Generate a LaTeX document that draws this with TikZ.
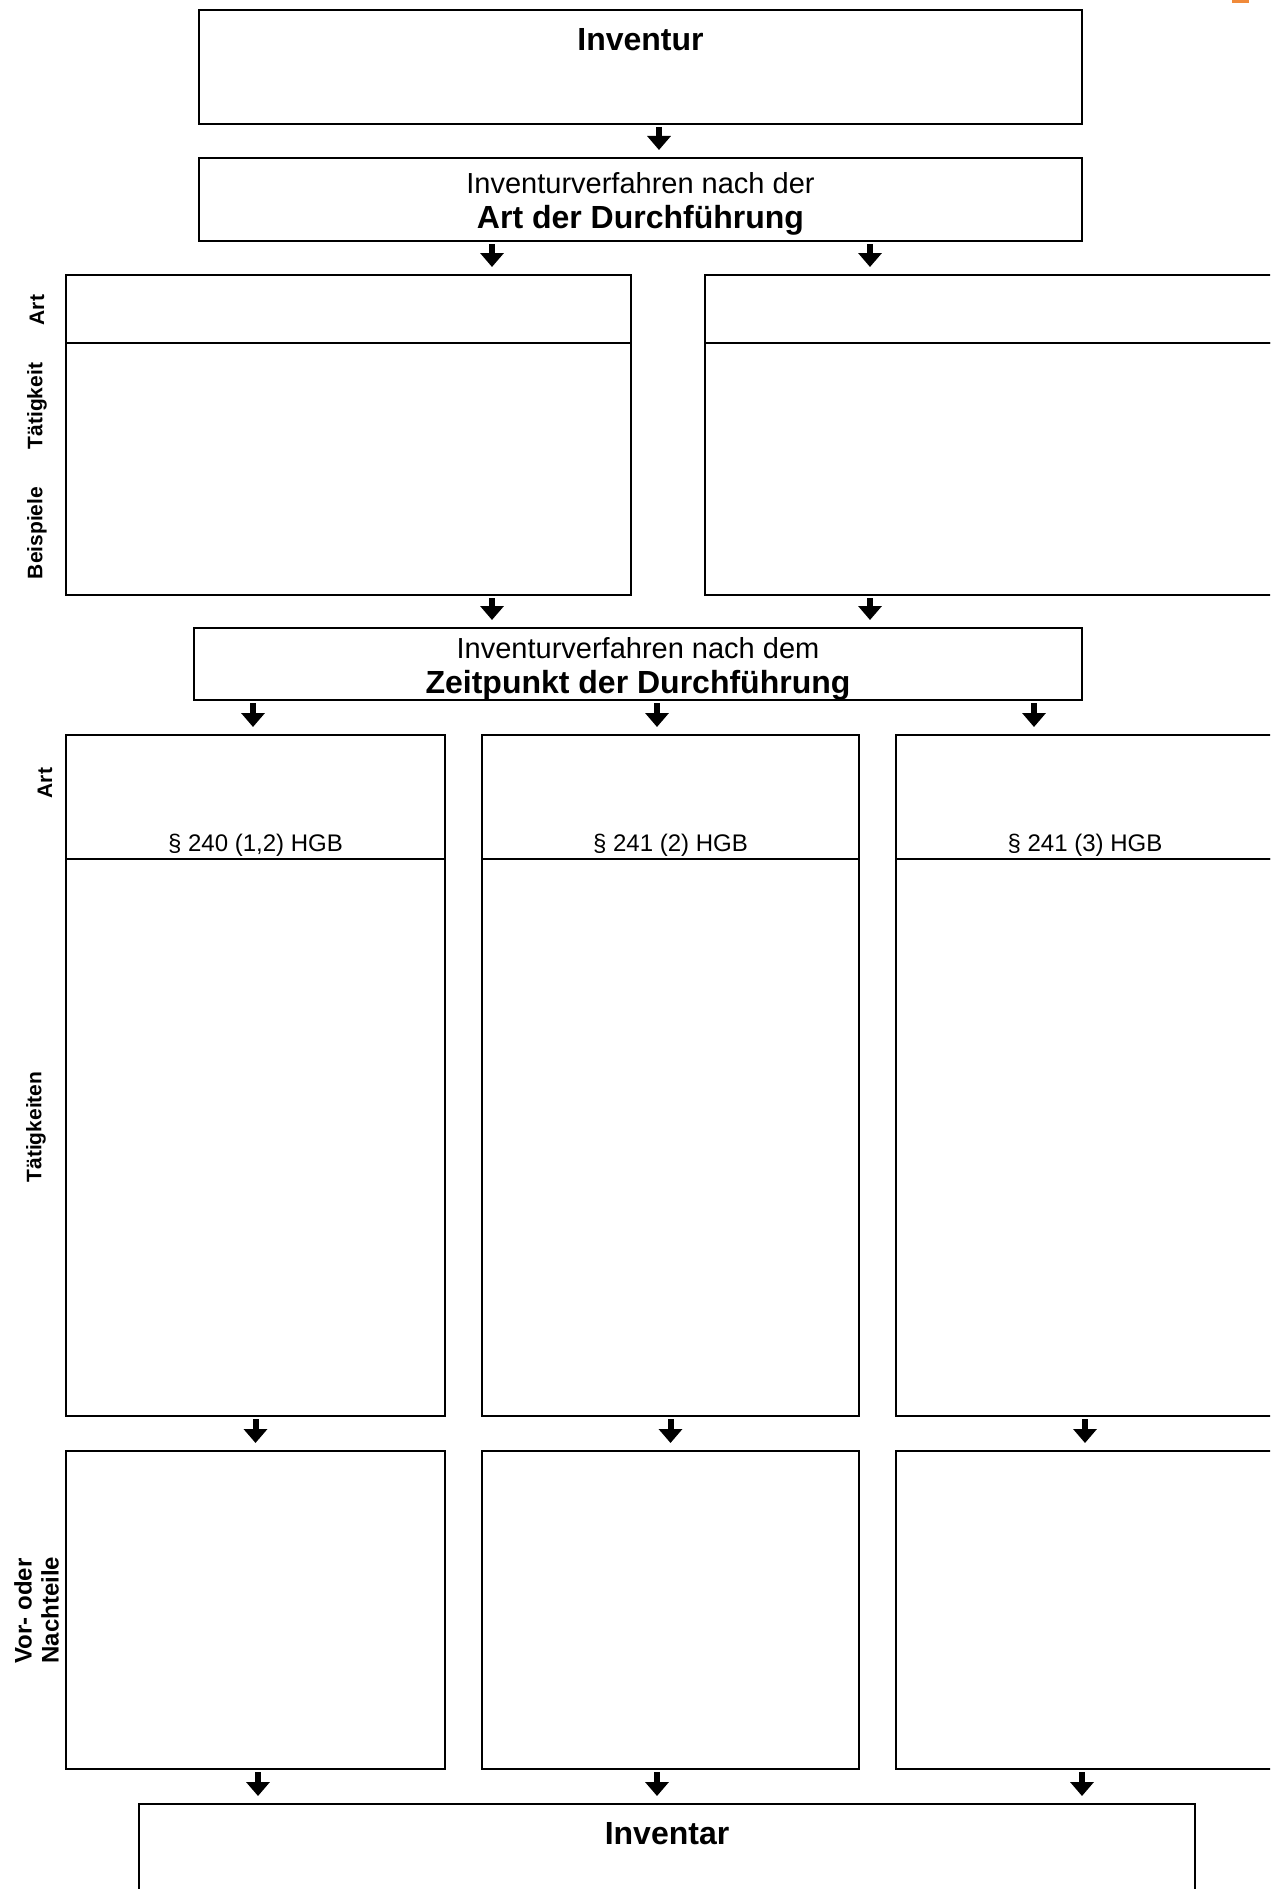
\documentclass[tikz,border=0pt]{standalone}
\usepackage{fontspec}
\setmainfont{Liberation Sans}
\usepackage{xcolor}
\usetikzlibrary{arrows.meta, positioning}

\definecolor{markorange}{HTML}{F08A3A}

\begin{document}
\begin{tikzpicture}[
    x=0.5pt, y=-0.5pt,
    panel/.style={draw, line width=1.2pt, anchor=north west, inner sep=0pt, outer sep=0pt},
    headtext/.style={anchor=center, yshift=-2.2pt, align=center, inner sep=0pt, font=\fontsize{14.5}{17.5}\selectfont},
    sidelabel/.style={rotate=90, inner sep=0pt, font=\bfseries\fontsize{10.5}{12}\selectfont},
    lawtext/.style={inner sep=0pt, font=\fontsize{12}{14}\selectfont},
    flow/.style={draw, line width=3pt, -{Triangle[length=7pt, width=11.5pt]}, shorten <=1.5pt, shorten >=4pt}
]
    \clip (0,0) rectangle (1270,1889);
    \fill[markorange] (1232,0) rectangle (1249,3);

    % Kopf
    \node [panel, minimum width=441.5pt, minimum height=57pt,
           label={[anchor=center, yshift=-15pt, font=\bfseries\fontsize{16}{19}\selectfont]north:Inventur}]
           (inventur) at (199,10) {};
    \node [panel, minimum width=441.5pt, minimum height=41.5pt,
           label={[headtext]center:Inventurverfahren nach der\\{\bfseries\fontsize{16}{17.5}\selectfont Art der Durchführung}}]
           (artHead) at (199,158) {};

    % Art der Durchfuehrung
    \node [panel, minimum width=282.5pt, minimum height=34pt] (artLeftTop) at (66,275) {};
    \node [panel, minimum width=282.5pt, minimum height=126pt, below=0pt of artLeftTop] (artLeftBody) {};
    \node [panel, minimum width=292.5pt, minimum height=34pt] (artRightTop) at (705,275) {};
    \node [panel, minimum width=292.5pt, minimum height=126pt, below=0pt of artRightTop] (artRightBody) {};

    \node [sidelabel] (lblArt) at (37,310) {Art};
    \node [sidelabel] (lblTaet) at (37,406) {Tätigkeit};
    \node [sidelabel] (lblBsp) at (37,533) {Beispiele};

    % Zeitpunkt der Durchfuehrung
    \node [panel, minimum width=444pt, minimum height=36pt,
           label={[headtext, yshift=-0.4pt]center:Inventurverfahren nach dem\\{\bfseries\fontsize{16}{17.5}\selectfont Zeitpunkt der Durchführung}}]
           (zeitHead) at (194,628) {};

    \node [panel, minimum width=189.5pt, minimum height=62pt] (colATop) at (66,735) {};
    \node [panel, minimum width=189.5pt, minimum height=278.5pt, below=0pt of colATop] (colABody) {};
    \node [panel, minimum width=188.5pt, minimum height=62pt] (colBTop) at (482,735) {};
    \node [panel, minimum width=188.5pt, minimum height=278.5pt, below=0pt of colBTop] (colBBody) {};
    \node [panel, minimum width=189pt, minimum height=62pt] (colCTop) at (896,735) {};
    \node [panel, minimum width=189pt, minimum height=278.5pt, below=0pt of colCTop] (colCBody) {};

    \node [lawtext] (lawA) at ([yshift=7pt]colATop.south) {§ 240 (1,2) HGB};
    \node [lawtext] (lawB) at ([yshift=7pt]colBTop.south) {§ 241 (2) HGB};
    \node [lawtext] (lawC) at ([yshift=7pt]colCTop.south) {§ 241 (3) HGB};

    \node [sidelabel] (lblArtZeit) at (45,783) {Art};
    \node [sidelabel] (lblTaetZeit) at (36,1127) {Tätigkeiten};

    % Vor- und Nachteile
    \node [panel, minimum width=189.5pt, minimum height=159pt] (vnA) at (66,1451) {};
    \node [panel, minimum width=188.5pt, minimum height=159pt] (vnB) at (482,1451) {};
    \node [panel, minimum width=189pt, minimum height=159pt] (vnC) at (896,1451) {};

    \node [sidelabel, align=left, font=\bfseries\fontsize{12}{13.5}\selectfont] (lblVN) at (36.5,1610) {Vor- oder\\Nachteile};

    % Ergebnis
    \node [panel, minimum width=528pt, minimum height=60pt,
           label={[anchor=center, yshift=-15pt, font=\bfseries\fontsize{16}{19}\selectfont]north:Inventar}]
           (inventar) at (139,1804) {};

    % Pfeile
    \path [flow] (inventur.south -| 659,0) -- (artHead.north -| 659,0);
    \path [flow] (artHead.south -| 492,0) -- (artLeftTop.north -| 492,0);
    \path [flow] (artHead.south -| 870,0) -- (artRightTop.north -| 870,0);
    \path [flow] (artLeftBody.south -| 492,0) -- (zeitHead.north -| 492,0);
    \path [flow] (artRightBody.south -| 870,0) -- (zeitHead.north -| 870,0);
    \path [flow] (zeitHead.south -| 253,0) -- (colATop.north -| 253,0);
    \path [flow] (zeitHead.south -| 657,0) -- (colBTop.north -| 657,0);
    \path [flow] (zeitHead.south -| 1034,0) -- (colCTop.north -| 1034,0);
    \path [flow] (colABody.south) -- (vnA.north);
    \path [flow] (colBBody.south) -- (vnB.north);
    \path [flow] (colCBody.south) -- (vnC.north);
    \path [flow] (vnA.south -| 258,0) -- (inventar.north -| 258,0);
    \path [flow] (vnB.south -| 657,0) -- (inventar.north -| 657,0);
    \path [flow] (vnC.south -| 1082,0) -- (inventar.north -| 1082,0);
\end{tikzpicture}
\end{document}
